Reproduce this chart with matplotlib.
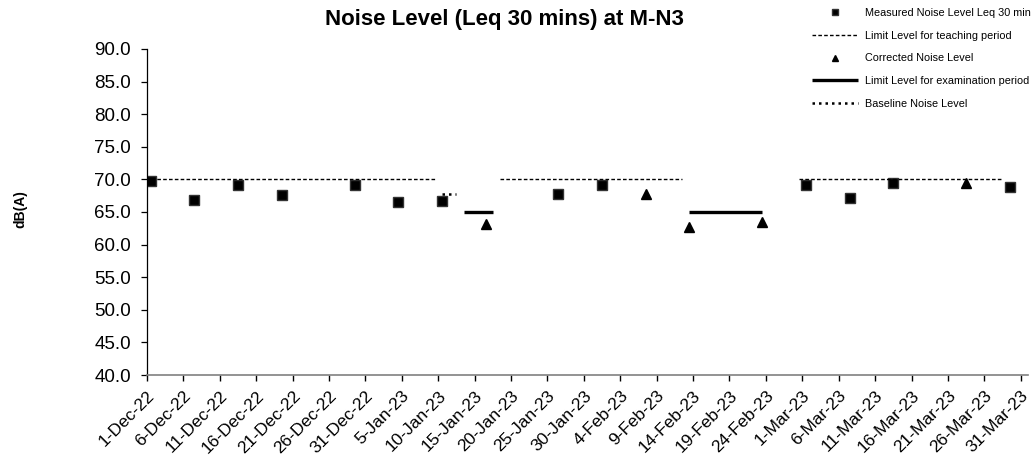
import matplotlib
matplotlib.use("Agg")
import matplotlib.pyplot as plt
import matplotlib.dates as mdates
from matplotlib.ticker import FixedLocator, FuncFormatter
import numpy as np
import datetime as dt

plt.rcParams['font.family'] = ['Liberation Sans', 'DejaVu Sans']

# ---- data ----
measured_dates = ["2022-12-01", "2022-12-07", "2022-12-13", "2022-12-19", "2022-12-29",
                  "2023-01-04", "2023-01-10", "2023-01-26", "2023-02-01", "2023-03-01",
                  "2023-03-07", "2023-03-13", "2023-03-29"]
measured_values = [69.7, 66.8, 69.2, 67.6, 69.2, 66.6, 66.7, 67.8, 69.2, 69.2, 67.1, 69.4, 68.8]

corrected_dates = ["2023-01-16", "2023-02-07", "2023-02-13", "2023-02-23", "2023-03-23"]
corrected_values = [63.1, 67.7, 62.7, 63.5, 69.4]

teaching_starts = ["2022-12-01", "2023-01-18", "2023-02-28"]
teaching_ends = ["2023-01-09", "2023-02-12", "2023-03-28"]
teaching_level = 70.0

exam_starts = ["2023-01-13", "2023-02-13"]
exam_ends = ["2023-01-17", "2023-02-23"]
exam_level = 65.0

baseline_starts = ["2023-01-10"]
baseline_ends = ["2023-01-12"]
baseline_level = 67.7

title = "Noise Level (Leq 30 mins) at M-N3"
ylabel = "dB(A)"
legend_labels = ["Measured Noise Level Leq 30 min", "Limit Level for teaching period",
                 "Corrected Noise Level", "Limit Level for examination period",
                 "Baseline Noise Level"]

# ---- helpers ----
half_day = dt.timedelta(hours=12)
def pos(s):
    return mdates.date2num(dt.datetime.strptime(s, "%Y-%m-%d") + half_day)

fig = plt.figure(figsize=(10.31, 4.59), dpi=100)
ax = fig.add_axes([147/1031, 1 - 375/459, (1028 - 147)/1031, (375 - 49)/459])

h_meas, = ax.plot([pos(d) for d in measured_dates], measured_values, linestyle='none',
                  marker='s', markersize=6.5, color='black', markeredgecolor='#333333')
h_corr, = ax.plot([pos(d) for d in corrected_dates], corrected_values, linestyle='none',
                  marker='^', markersize=7.5, color='black')

h_teach = None
for s, e in zip(teaching_starts, teaching_ends):
    h_teach, = ax.plot([pos(s), pos(e)], [teaching_level]*2, color='black', lw=1.0,
                       dashes=(2.6, 1.6))
h_exam = None
for s, e in zip(exam_starts, exam_ends):
    h_exam, = ax.plot([pos(s), pos(e)], [exam_level]*2, color='black', lw=2.4,
                      solid_capstyle='butt')
h_base = None
for s, e in zip(baseline_starts, baseline_ends):
    h_base, = ax.plot([pos(s), pos(e)], [baseline_level]*2, color='black', lw=1.8,
                      dashes=(1, 1.6))

# axes
x0 = mdates.date2num(dt.datetime(2022, 12, 1))
ax.set_xlim(x0, x0 + 121)
ax.set_ylim(40, 90)
ax.set_yticks(np.arange(40, 90.1, 5))
ax.yaxis.set_major_formatter(FuncFormatter(lambda v, p: f"{v:.1f}"))
xt = [x0 + 5*i for i in range(25)]
ax.xaxis.set_major_locator(FixedLocator(xt))
def fmt(v, p):
    d = mdates.num2date(v)
    return f"{d.day}-{d.strftime('%b-%y')}"
ax.xaxis.set_major_formatter(FuncFormatter(fmt))

for sp in ['top', 'right']:
    ax.spines[sp].set_visible(False)
ax.spines['left'].set_color('black')
ax.spines['left'].set_linewidth(0.9)
ax.spines['bottom'].set_color('#808080')
ax.spines['bottom'].set_linewidth(1.2)
ax.tick_params(axis='y', direction='out', length=4.5, width=0.9, color='black',
               labelsize=13.5, pad=7)
ax.tick_params(axis='x', direction='out', length=4.5, width=1.0, color='black',
               labelsize=12.5, pad=5)
for lab in ax.get_xticklabels():
    lab.set_rotation(45)
    lab.set_ha('right')
    lab.set_rotation_mode('anchor')

fig.text(504/1031, 1 - 20/459, title, ha='center', va='center', fontsize=16,
         fontweight='bold')
fig.text(20/1031, 1 - 209/459, ylabel, ha='center', va='center', rotation=90,
         fontsize=10, fontweight='bold')

leg = fig.legend([h_meas, h_teach, h_corr, h_exam, h_base], legend_labels,
                 loc='upper left', bbox_to_anchor=(812/1031, 1 - 8/459),
                 frameon=False, fontsize=7.8, handlelength=4.25, handletextpad=0.65,
                 labelspacing=1.17, markerscale=0.6, borderaxespad=0, borderpad=0)

fig.savefig("out.png", dpi=100)
